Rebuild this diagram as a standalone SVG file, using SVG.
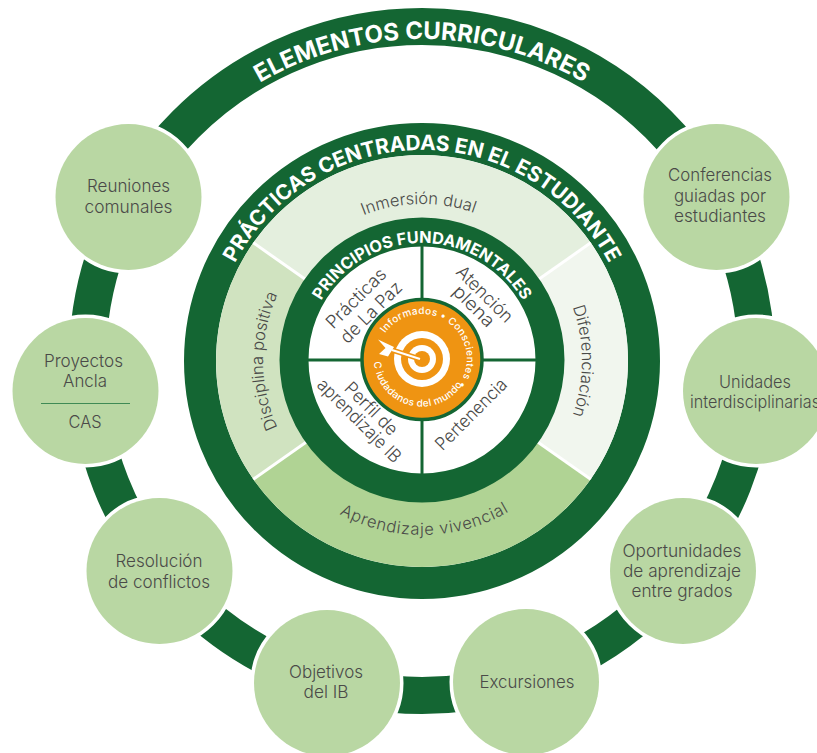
<svg xmlns="http://www.w3.org/2000/svg" width="817" height="753" viewBox="0 0 817 753">
<style>
text{font-family:"Inter","Open Sans","Liberation Sans",sans-serif;}
.lb{font-weight:300;font-size:17.5px;fill:#4a4a48;text-anchor:middle;}
.sec{font-weight:300;font-size:16.5px;fill:#4a4a48;text-anchor:middle;}
.q{font-weight:300;font-size:18px;fill:#4a4a48;text-anchor:middle;}
.t{font-weight:700;fill:#fff;text-anchor:middle;}
.o{font-weight:500;font-size:10px;letter-spacing:.35px;fill:#fff;}
.n{fill:#b9d7a3;stroke:#fff;stroke-width:7;paint-order:stroke;}
.dv{stroke:#fff;stroke-width:3;}
.g{stroke:#146633;stroke-width:3;}
</style>
<defs>
<path id="p1" d="M100 361A322 322 0 0 1 744 361"/>
<path id="p2" d="M211 361A211 211 0 0 1 633 361"/>
<path id="p3" d="M305 360A117 117 0 0 1 539 360"/>
<path id="pI" d="M265 361A157 157 0 0 1 579 361"/>
<path id="pD" d="M422 201A160 160 0 0 1 422 521"/>
<path id="pP" d="M422 520A159 159 0 0 1 422 202"/>
<path id="pA" d="M248 361A174 174 0 0 0 596 361"/>
<path id="pO1" d="M385.1 333.2A45 45 0 1 1 450.9 393.5"/>
<path id="pO2" d="M374 362A48 48 0 0 0 468 372"/>
</defs>
<g id="connectors">
<circle cx="422" cy="361" r="334.5" fill="none" stroke="#146633" stroke-width="37"/>
</g>
<g id="elementos-title"><text class="t" font-size="24"><textPath href="#p1" startOffset="50%">ELEMENTOS CURRICULARES</textPath></text></g>
<g id="node-reuniones"><circle class="n" cx="128.5" cy="197" r="73"/><text class="lb" x="128.5" y="192" textLength="83" lengthAdjust="spacingAndGlyphs">Reuniones</text><text class="lb" x="128.5" y="212.5" textLength="88" lengthAdjust="spacingAndGlyphs">comunales</text></g>
<g id="node-proyectos"><circle class="n" cx="85.5" cy="391" r="73"/><text class="lb" x="83.5" y="367" textLength="79" lengthAdjust="spacingAndGlyphs">Proyectos</text><text class="lb" x="85" y="387" textLength="44" lengthAdjust="spacingAndGlyphs">Ancla</text><line x1="41" y1="403.5" x2="130" y2="403.5" stroke="#3f8a55" stroke-width="1"/><text class="lb" x="85" y="428" textLength="33" lengthAdjust="spacingAndGlyphs">CAS</text></g>
<g id="node-conferencias"><circle class="n" cx="716.5" cy="197" r="73"/><text class="lb" x="720" y="181" textLength="104" lengthAdjust="spacingAndGlyphs">Conferencias</text><text class="lb" x="720" y="202" textLength="92" lengthAdjust="spacingAndGlyphs">guiadas por</text><text class="lb" x="720" y="222" textLength="92" lengthAdjust="spacingAndGlyphs">estudiantes</text></g>
<g id="node-unidades"><circle class="n" cx="756" cy="391" r="73"/><text class="lb" x="755" y="388" textLength="72" lengthAdjust="spacingAndGlyphs">Unidades</text><text class="lb" x="755" y="408" textLength="130" lengthAdjust="spacingAndGlyphs">interdisciplinarias</text></g>
<g id="node-oportunidades"><circle class="n" cx="683" cy="571" r="73"/><text class="lb" x="682" y="557" textLength="119" lengthAdjust="spacingAndGlyphs">Oportunidades</text><text class="lb" x="682" y="577" textLength="118" lengthAdjust="spacingAndGlyphs">de aprendizaje</text><text class="lb" x="682" y="597" textLength="101" lengthAdjust="spacingAndGlyphs">entre grados</text></g>
<g id="node-excursiones"><circle class="n" cx="526" cy="682" r="73"/><text class="lb" x="527" y="688" textLength="95" lengthAdjust="spacingAndGlyphs">Excursiones</text></g>
<g id="node-objetivos"><circle class="n" cx="327" cy="683" r="73"/><text class="lb" x="326" y="678" textLength="74" lengthAdjust="spacingAndGlyphs">Objetivos</text><text class="lb" x="326" y="698" textLength="45" lengthAdjust="spacingAndGlyphs">del IB</text></g>
<g id="node-resolucion"><circle class="n" cx="159.5" cy="571" r="73"/><text class="lb" x="159" y="567" textLength="87" lengthAdjust="spacingAndGlyphs">Resolución</text><text class="lb" x="159" y="588" textLength="102" lengthAdjust="spacingAndGlyphs">de conflictos</text></g>
<g id="practicas">
<circle cx="422" cy="361" r="222" fill="none" stroke="#146633" stroke-width="32"/>
<path d="M422 361L253.3 242.8A206 206 0 0 1 590.7 242.8Z" fill="#e4efde"/>
<path d="M422 361L590.7 242.8A206 206 0 0 1 590.7 479.2Z" fill="#f1f6ee"/>
<path d="M422 361L590.7 479.2A206 206 0 0 1 253.3 479.2Z" fill="#b0d394"/>
<path d="M422 361L253.3 479.2A206 206 0 0 1 253.3 242.8Z" fill="#d0e3c0"/>
<line class="dv" x1="253.3" y1="242.8" x2="322" y2="291"/>
<line class="dv" x1="590.7" y1="242.8" x2="522" y2="291"/>
<line class="dv" x1="253.3" y1="479.2" x2="322" y2="431"/>
<line class="dv" x1="590.7" y1="479.2" x2="522" y2="431"/>
<text class="t" font-size="20.9"><textPath href="#p2" startOffset="50%">PRÁCTICAS CENTRADAS EN EL ESTUDIANTE</textPath></text>
<text class="sec"><textPath href="#pI" startOffset="49.3%">Inmersión dual</textPath></text>
<text class="sec"><textPath href="#pD" startOffset="50%">Diferenciación</textPath></text>
<text class="sec"><textPath href="#pP" startOffset="50%">Disciplina positiva</textPath></text>
<text class="sec" letter-spacing="0.7"><textPath href="#pA" startOffset="50.5%">Aprendizaje vivencial</textPath></text>
</g>
<g id="principios">
<circle cx="422" cy="360" r="128" fill="#fff" stroke="#146633" stroke-width="29"/>
<line class="g" x1="422" y1="246" x2="422" y2="474"/>
<line class="g" x1="308" y1="360" x2="536" y2="360"/>
<text class="t" font-size="16.3"><textPath href="#p3" startOffset="50%">PRINCIPIOS FUNDAMENTALES</textPath></text>
<text class="q" transform="translate(360.5 302.5) rotate(-45)" textLength="77" lengthAdjust="spacingAndGlyphs">Prácticas</text>
<text class="q" transform="translate(375.5 316.5) rotate(-45)" textLength="79" lengthAdjust="spacingAndGlyphs">de La Paz</text>
<text class="q" transform="translate(480.5 298.5) rotate(45)" textLength="72" lengthAdjust="spacingAndGlyphs">Atención</text>
<text class="q" transform="translate(469.5 310.5) rotate(45)" textLength="51" lengthAdjust="spacingAndGlyphs">plena</text>
<text class="q" transform="translate(367 413) rotate(45)" textLength="67" lengthAdjust="spacingAndGlyphs">Perfil de</text>
<text class="q" transform="translate(355 425) rotate(45)" textLength="110" lengthAdjust="spacingAndGlyphs">aprendizaje IB</text>
<text class="q" transform="translate(475.5 418.5) rotate(-45)" textLength="93" lengthAdjust="spacingAndGlyphs">Pertenencia</text>
</g>
<g id="centro">
<circle cx="422" cy="359.5" r="60" fill="#ef9412" stroke="#146633" stroke-width="3.5"/>
<circle cx="422" cy="359" r="28" fill="#fff"/>
<circle cx="422" cy="359" r="21" fill="#ef9412"/>
<circle cx="422" cy="359" r="14" fill="#fff"/>
<circle cx="422" cy="359" r="8" fill="#ef9412"/>
<line x1="392" y1="350" x2="420" y2="359" stroke="#ef9412" stroke-width="5"/>
<line x1="392" y1="350" x2="420" y2="359" stroke="#fff" stroke-width="2.2"/>
<path d="M378 339.5L394 347L388 356.5L379 354L385.5 348Z" fill="#fff"/>
<text class="o"><textPath href="#pO1">Informados • Conscientes •</textPath></text>
<text class="o"><textPath href="#pO2"><tspan>C</tspan><tspan dx="3">iudadanos del mundo</tspan></textPath></text>
</g>
</svg>
